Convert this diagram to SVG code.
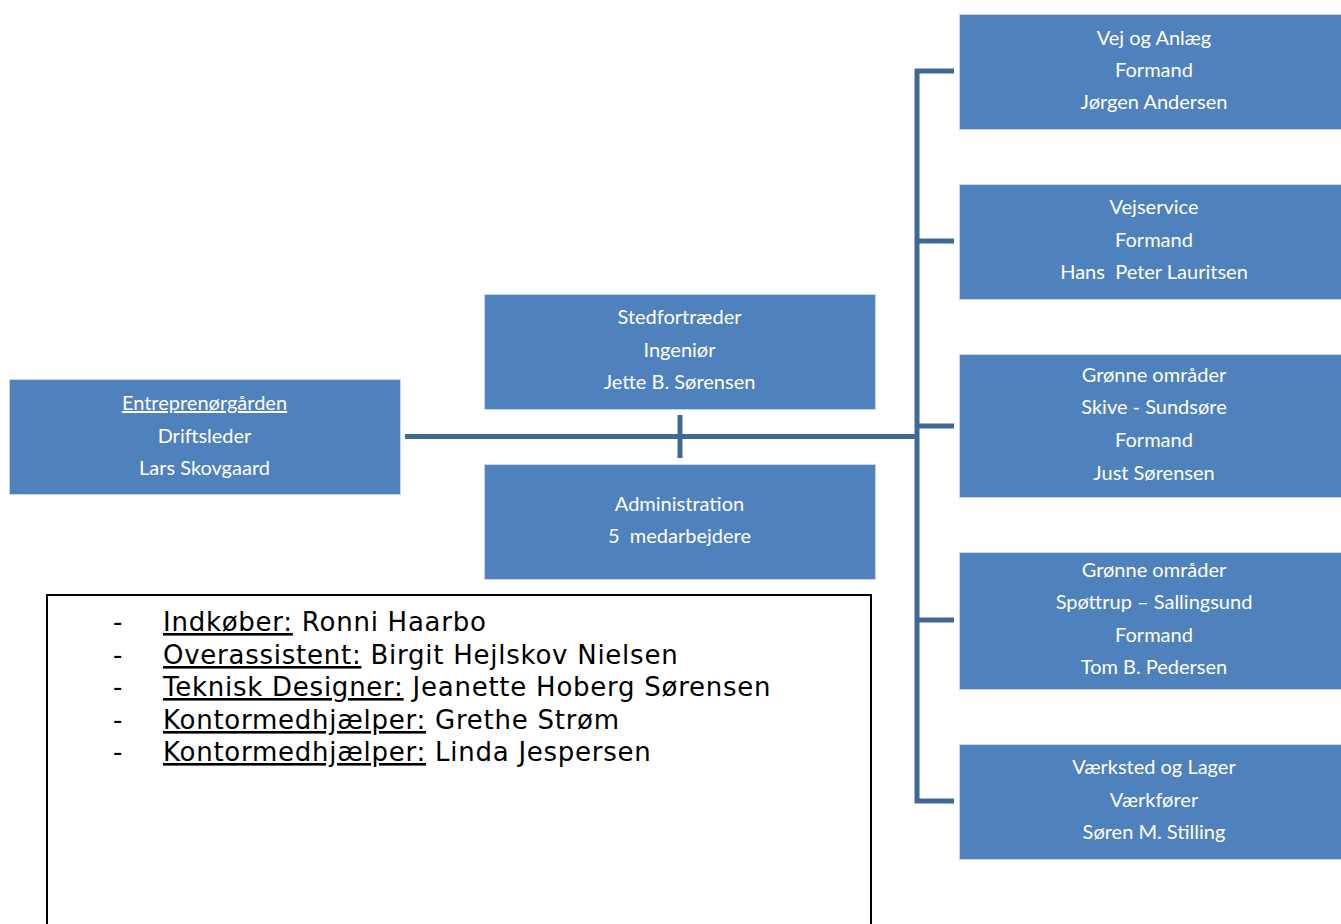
<svg xmlns="http://www.w3.org/2000/svg" width="1341" height="924" viewBox="0 0 1341 924">
<style>
.box{fill:#4F81BD;stroke:#C5D6EC;stroke-width:1}
.t{font-family:Lato,"Open Sans",sans-serif;font-size:20px;fill:#FFFFFF;text-anchor:middle}
.c{stroke:#3F6797;stroke-width:5;fill:none}
.lst{font-family:"DejaVu Sans",Verdana,sans-serif;font-size:26px;letter-spacing:0.75px;fill:#000}
.u{text-decoration:underline}
</style>
<rect width="1341" height="924" fill="#FFFFFF"/>
<g id="connectors">
<line class="c" x1="405" y1="436.5" x2="917" y2="436.5"/>
<line class="c" x1="680" y1="415" x2="680" y2="458"/>
<line class="c" x1="917" y1="69" x2="917" y2="803"/>
<line class="c" x1="915" y1="71" x2="954" y2="71"/>
<line class="c" x1="917" y1="241" x2="954" y2="241"/>
<line class="c" x1="917" y1="426" x2="954" y2="426"/>
<line class="c" x1="917" y1="620" x2="954" y2="620"/>
<line class="c" x1="915" y1="801" x2="954" y2="801"/>
</g>
<g id="entreprenoer">
<rect class="box" x="9.5" y="379.5" width="391" height="115"/>
<text class="t" x="204.5" y="410" style="text-decoration:underline">Entreprenørgården</text>
<text class="t" x="204.5" y="443">Driftsleder</text>
<text class="t" x="204.5" y="475">Lars Skovgaard</text>
</g>
<g id="stedfortraeder">
<rect class="box" x="484.5" y="294.5" width="391" height="115"/>
<text class="t" x="679.5" y="324">Stedfortræder</text>
<text class="t" x="679.5" y="357">Ingeniør</text>
<text class="t" x="679.5" y="389">Jette B. Sørensen</text>
</g>
<g id="administration">
<rect class="box" x="484.5" y="464.5" width="391" height="115"/>
<text class="t" x="679.5" y="511">Administration</text>
<text class="t" x="679.5" y="543" xml:space="preserve">5  medarbejdere</text>
</g>
<g id="vej-og-anlaeg">
<rect class="box" x="959.5" y="14.5" width="390" height="115"/>
<text class="t" x="1154" y="45">Vej og Anlæg</text>
<text class="t" x="1154" y="77">Formand</text>
<text class="t" x="1154" y="109">Jørgen Andersen</text>
</g>
<g id="vejservice">
<rect class="box" x="959.5" y="184.5" width="390" height="115"/>
<text class="t" x="1154" y="214">Vejservice</text>
<text class="t" x="1154" y="247">Formand</text>
<text class="t" x="1154" y="279" xml:space="preserve">Hans  Peter Lauritsen</text>
</g>
<g id="groenne-skive">
<rect class="box" x="959.5" y="354.5" width="390" height="143"/>
<text class="t" x="1154" y="382">Grønne områder</text>
<text class="t" x="1154" y="414">Skive - Sundsøre</text>
<text class="t" x="1154" y="447">Formand</text>
<text class="t" x="1154" y="480">Just Sørensen</text>
</g>
<g id="groenne-spoettrup">
<rect class="box" x="959.5" y="552.5" width="390" height="137"/>
<text class="t" x="1154" y="577">Grønne områder</text>
<text class="t" x="1154" y="609">Spøttrup – Sallingsund</text>
<text class="t" x="1154" y="642">Formand</text>
<text class="t" x="1154" y="674">Tom B. Pedersen</text>
</g>
<g id="vaerksted">
<rect class="box" x="959.5" y="744.5" width="390" height="115"/>
<text class="t" x="1154" y="774">Værksted og Lager</text>
<text class="t" x="1154" y="807">Værkfører</text>
<text class="t" x="1154" y="839">Søren M. Stilling</text>
</g>
<g id="administration-list">
<rect x="47" y="595" width="824" height="340" fill="#FFFFFF" stroke="#000" stroke-width="2"/>
<text class="lst" x="113" y="631">-</text>
<text class="lst" x="163" y="631"><tspan class="u">Indkøber:</tspan> Ronni Haarbo</text>
<text class="lst" x="113" y="664">-</text>
<text class="lst" x="163" y="664"><tspan class="u">Overassistent:</tspan> Birgit Hejlskov Nielsen</text>
<text class="lst" x="113" y="696">-</text>
<text class="lst" x="163" y="696"><tspan class="u">Teknisk Designer:</tspan> Jeanette Hoberg Sørensen</text>
<text class="lst" x="113" y="729">-</text>
<text class="lst" x="163" y="729"><tspan class="u">Kontormedhjælper:</tspan> Grethe Strøm</text>
<text class="lst" x="113" y="761">-</text>
<text class="lst" x="163" y="761"><tspan class="u">Kontormedhjælper:</tspan> Linda Jespersen</text>
</g>
</svg>
